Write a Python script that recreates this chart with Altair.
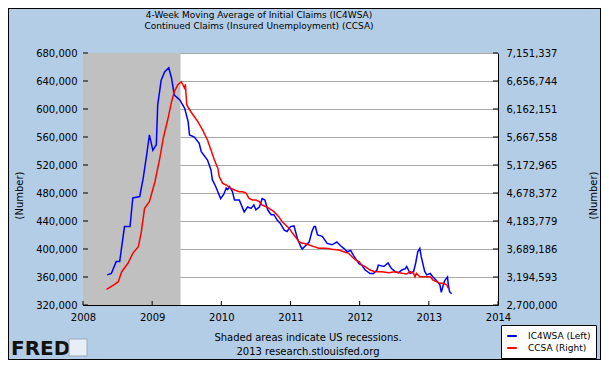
import altair as alt
import pandas as pd

title_lines = ["4-Week Moving Average of Initial Claims (IC4WSA)",
               "Continued Claims (Insured Unemployment) (CCSA)"]
note_lines = ["Shaded areas indicate US recessions.", "2013 research.stlouisfed.org"]
logo_text = "FRED"
axis_title = "(Number)"
series_names = ["IC4WSA (Left)", "CCSA (Right)"]
series_colors = ["#0000ff", "#ff0000"]
year_ticks = [2008, 2009, 2010, 2011, 2012, 2013, 2014]
left_ticks = [320000, 360000, 400000, 440000, 480000, 520000, 560000, 600000, 640000, 680000]
right_ticks = [2700000, 3194593, 3689186, 4183779, 4678372, 5172965, 5667558, 6162151, 6656744, 7151337]
recession_start = [2008.0]
recession_end = [2009.41]

blue_years = [2008.35, 2008.41, 2008.48, 2008.53, 2008.60, 2008.68, 2008.72, 2008.82, 2008.87, 2008.92,
              2008.96, 2009.01, 2009.06, 2009.08, 2009.13, 2009.18, 2009.24, 2009.28, 2009.32, 2009.40,
              2009.47, 2009.52, 2009.54, 2009.61, 2009.68, 2009.71, 2009.80, 2009.85, 2009.87, 2009.92,
              2009.99, 2010.04, 2010.07, 2010.09, 2010.12, 2010.16, 2010.19, 2010.26, 2010.33, 2010.38,
              2010.43, 2010.47, 2010.50, 2010.55, 2010.59, 2010.63, 2010.67, 2010.72, 2010.76, 2010.81,
              2010.85, 2010.91, 2010.95, 2011.00, 2011.05, 2011.10, 2011.15, 2011.17, 2011.22, 2011.27,
              2011.31, 2011.34, 2011.36, 2011.39, 2011.46, 2011.53, 2011.60, 2011.67, 2011.72, 2011.77,
              2011.82, 2011.87, 2011.91, 2011.99, 2012.03, 2012.08, 2012.15, 2012.20, 2012.25, 2012.27,
              2012.35, 2012.41, 2012.46, 2012.51, 2012.56, 2012.61, 2012.66, 2012.68, 2012.73, 2012.78,
              2012.81, 2012.84, 2012.87, 2012.89, 2012.94, 2012.97, 2013.02, 2013.06, 2013.11, 2013.16,
              2013.18, 2013.21, 2013.23, 2013.27, 2013.28, 2013.30, 2013.33]
blue_vals_k = [363, 365, 382, 382, 432, 432, 473, 475, 501, 534,
               563, 541, 549, 606, 641, 653, 659, 644, 620, 613,
               601, 582, 563, 560, 551, 539, 527, 513, 499, 489,
               472, 479, 487, 485, 489, 482, 470, 470, 453, 460,
               458, 463, 456, 460, 472, 470, 456, 449, 449, 441,
               437, 427, 425, 432, 433, 415, 403, 400, 405, 410,
               425, 432, 432, 420, 418, 408, 406, 410, 405, 401,
               396, 398, 391, 379, 377, 370, 365, 365, 370, 377,
               375, 380, 372, 368, 366, 370, 372, 375, 365, 368,
               380, 396, 401, 389, 368, 363, 365, 360, 355, 349,
               338, 349, 355, 360, 350, 339, 336]

red_years = [2008.34, 2008.44, 2008.51, 2008.56, 2008.65, 2008.72, 2008.80, 2008.84, 2008.89, 2008.96,
             2009.04, 2009.11, 2009.16, 2009.23, 2009.28, 2009.32, 2009.37, 2009.42, 2009.47, 2009.48,
             2009.50, 2009.56, 2009.61, 2009.66, 2009.73, 2009.80, 2009.85, 2009.90, 2009.95, 2009.97,
             2010.02, 2010.07, 2010.14, 2010.19, 2010.26, 2010.31, 2010.36, 2010.40, 2010.45, 2010.50,
             2010.55, 2010.59, 2010.64, 2010.69, 2010.76, 2010.83, 2010.88, 2010.93, 2010.98, 2011.03,
             2011.07, 2011.12, 2011.17, 2011.19, 2011.27, 2011.34, 2011.41, 2011.51, 2011.60, 2011.70,
             2011.77, 2011.84, 2011.89, 2011.94, 2011.99, 2012.03, 2012.08, 2012.15, 2012.22, 2012.32,
             2012.42, 2012.51, 2012.61, 2012.68, 2012.73, 2012.78, 2012.80, 2012.82, 2012.87, 2012.94,
             2013.02, 2013.06, 2013.11, 2013.16, 2013.21, 2013.26, 2013.28]
red_vals_k = [2977, 3053, 3112, 3288, 3437, 3613, 3730, 3966, 4408, 4525,
              4878, 5291, 5644, 5998, 6291, 6468, 6586, 6645, 6528, 6598,
              6233, 6114, 6026, 5938, 5790, 5615, 5438, 5261, 5114, 4966,
              4849, 4820, 4761, 4731, 4701, 4701, 4672, 4584, 4555, 4555,
              4525, 4466, 4440, 4408, 4349, 4260, 4172, 4113, 4055, 3966,
              3907, 3818, 3790, 3790, 3760, 3731, 3701, 3701, 3684, 3672,
              3642, 3613, 3553, 3495, 3465, 3407, 3377, 3318, 3288, 3288,
              3270, 3288, 3259, 3248, 3288, 3259, 3200, 3259, 3200, 3200,
              3200, 3141, 3112, 3083, 3083, 3053, 2995]

W, H = 415, 252
FONT = "DejaVu Sans"

blue_df = pd.DataFrame({"t": blue_years, "v": [x * 1000 for x in blue_vals_k], "s": series_names[0]})
red_df = pd.DataFrame({"t": red_years, "c": [x * 1000 for x in red_vals_k], "s": series_names[1]})
rec_df = pd.DataFrame({"t": recession_start, "t2": recession_end})

x_enc = alt.X("t:Q", title=None,
              scale=alt.Scale(domain=[year_ticks[0], year_ticks[-1]], nice=False, zero=False),
              axis=alt.Axis(values=year_ticks, format="d", ticks=False, grid=False, labelPadding=7,
                            labelFlush=False, labelOverlap=False))

color_enc = alt.Color("s:N", title=None,
                      scale=alt.Scale(domain=series_names, range=series_colors),
                      legend=alt.Legend(orient="none", legendX=418, legendY=272, fillColor="white",
                                        strokeColor="black", padding=5, symbolType="stroke",
                                        symbolStrokeWidth=2, symbolSize=90, labelFontSize=9,
                                        labelFont=FONT, labelColor="black", labelOffset=10,
                                        rowPadding=1, cornerRadius=0))

left_y = alt.Y("v:Q", title=axis_title,
               scale=alt.Scale(domain=[left_ticks[0], left_ticks[-1]], nice=False, zero=False),
               axis=alt.Axis(values=left_ticks, format=",d", orient="left", grid=True,
                             gridColor="#a8a8a8", gridWidth=1, ticks=False, labelPadding=6,
                             titleX=-64, titleY=142, titleAngle=270, titleAlign="center",
                             titleBaseline="middle"))

right_y = alt.Y("c:Q", title=axis_title,
                scale=alt.Scale(domain=[right_ticks[0], right_ticks[-1]], nice=False, zero=False),
                axis=alt.Axis(values=right_ticks, format=",d", orient="right", grid=False,
                              ticks=False, labelPadding=8,
                              titleX=95, titleY=142, titleAngle=270, titleAlign="center",
                              titleBaseline="middle"))

rec = alt.Chart(rec_df).mark_rect(color="#c0c0c0").encode(
    x=x_enc, x2="t2:Q", y=alt.value(0), y2=alt.value(H))
blue_line = alt.Chart(blue_df).mark_line(strokeWidth=1.5).encode(x=x_enc, y=left_y, color=color_enc)
left_tick_rules = alt.Chart(pd.DataFrame({"v": left_ticks})).mark_rule(color="black").encode(
    y=left_y, x=alt.value(0), x2=alt.value(5))
bottom_tick_rules = alt.Chart(pd.DataFrame({"t": year_ticks})).mark_rule(color="black").encode(
    x=x_enc, y=alt.value(H - 4), y2=alt.value(H))
left_group = alt.layer(rec, blue_line, left_tick_rules, bottom_tick_rules)

red_line = alt.Chart(red_df).mark_line(strokeWidth=1.5).encode(x=x_enc, y=right_y, color=color_enc)
right_tick_rules = alt.Chart(pd.DataFrame({"c": right_ticks})).mark_rule(color="black").encode(
    y=right_y, x=alt.value(W - 5), x2=alt.value(W))
right_group = alt.layer(red_line, right_tick_rules)

title_txt = alt.Chart(pd.DataFrame({"txt": ["\n".join(title_lines)]})).mark_text(
    align="center", baseline="alphabetic", fontSize=9, font=FONT, lineBreak="\n",
    lineHeight=11.5, color="black").encode(text="txt:N", x=alt.value(176), y=alt.value(-35.5))
note_txt = alt.Chart(pd.DataFrame({"txt": ["\n".join(note_lines)]})).mark_text(
    align="center", baseline="alphabetic", fontSize=10, font=FONT, lineBreak="\n",
    lineHeight=13.5, color="black").encode(text="txt:N", x=alt.value(225), y=alt.value(288))
fred_txt = alt.Chart(pd.DataFrame({"txt": [logo_text]})).mark_text(
    align="left", baseline="alphabetic", fontSize=20, font=FONT, fontWeight="bold",
    color="#111111").encode(text="txt:N", x=alt.value(-72), y=alt.value(302))
icon = alt.Chart(pd.DataFrame({"k": [0]})).mark_rect(fill="#e8eef5", stroke="#9aaabb").encode(
    x=alt.value(-14), x2=alt.value(4), y=alt.value(286), y2=alt.value(303))
frame = alt.Chart(pd.DataFrame({"k": [0]})).mark_rect(filled=False, stroke="black", strokeWidth=2).encode(
    x=alt.value(-75), x2=alt.value(518), y=alt.value(-45), y2=alt.value(307))

chart = alt.layer(left_group, right_group, title_txt, note_txt, fred_txt, icon, frame).resolve_scale(
    y="independent"
).properties(
    width=W, height=H,
    padding={"left": 75, "top": 45, "right": 103, "bottom": 55},
    autosize=alt.AutoSizeParams(type="none"),
).configure(background="#b3cde6").configure_view(fill="white", stroke=None).configure_axis(
    domainColor="black", domainWidth=1, labelColor="black", labelFont=FONT, labelFontSize=10,
    titleFont=FONT, titleFontSize=10, titleFontWeight="normal", titleColor="black")

chart.save("out.html", embed_options={"renderer": "svg", "actions": False})
